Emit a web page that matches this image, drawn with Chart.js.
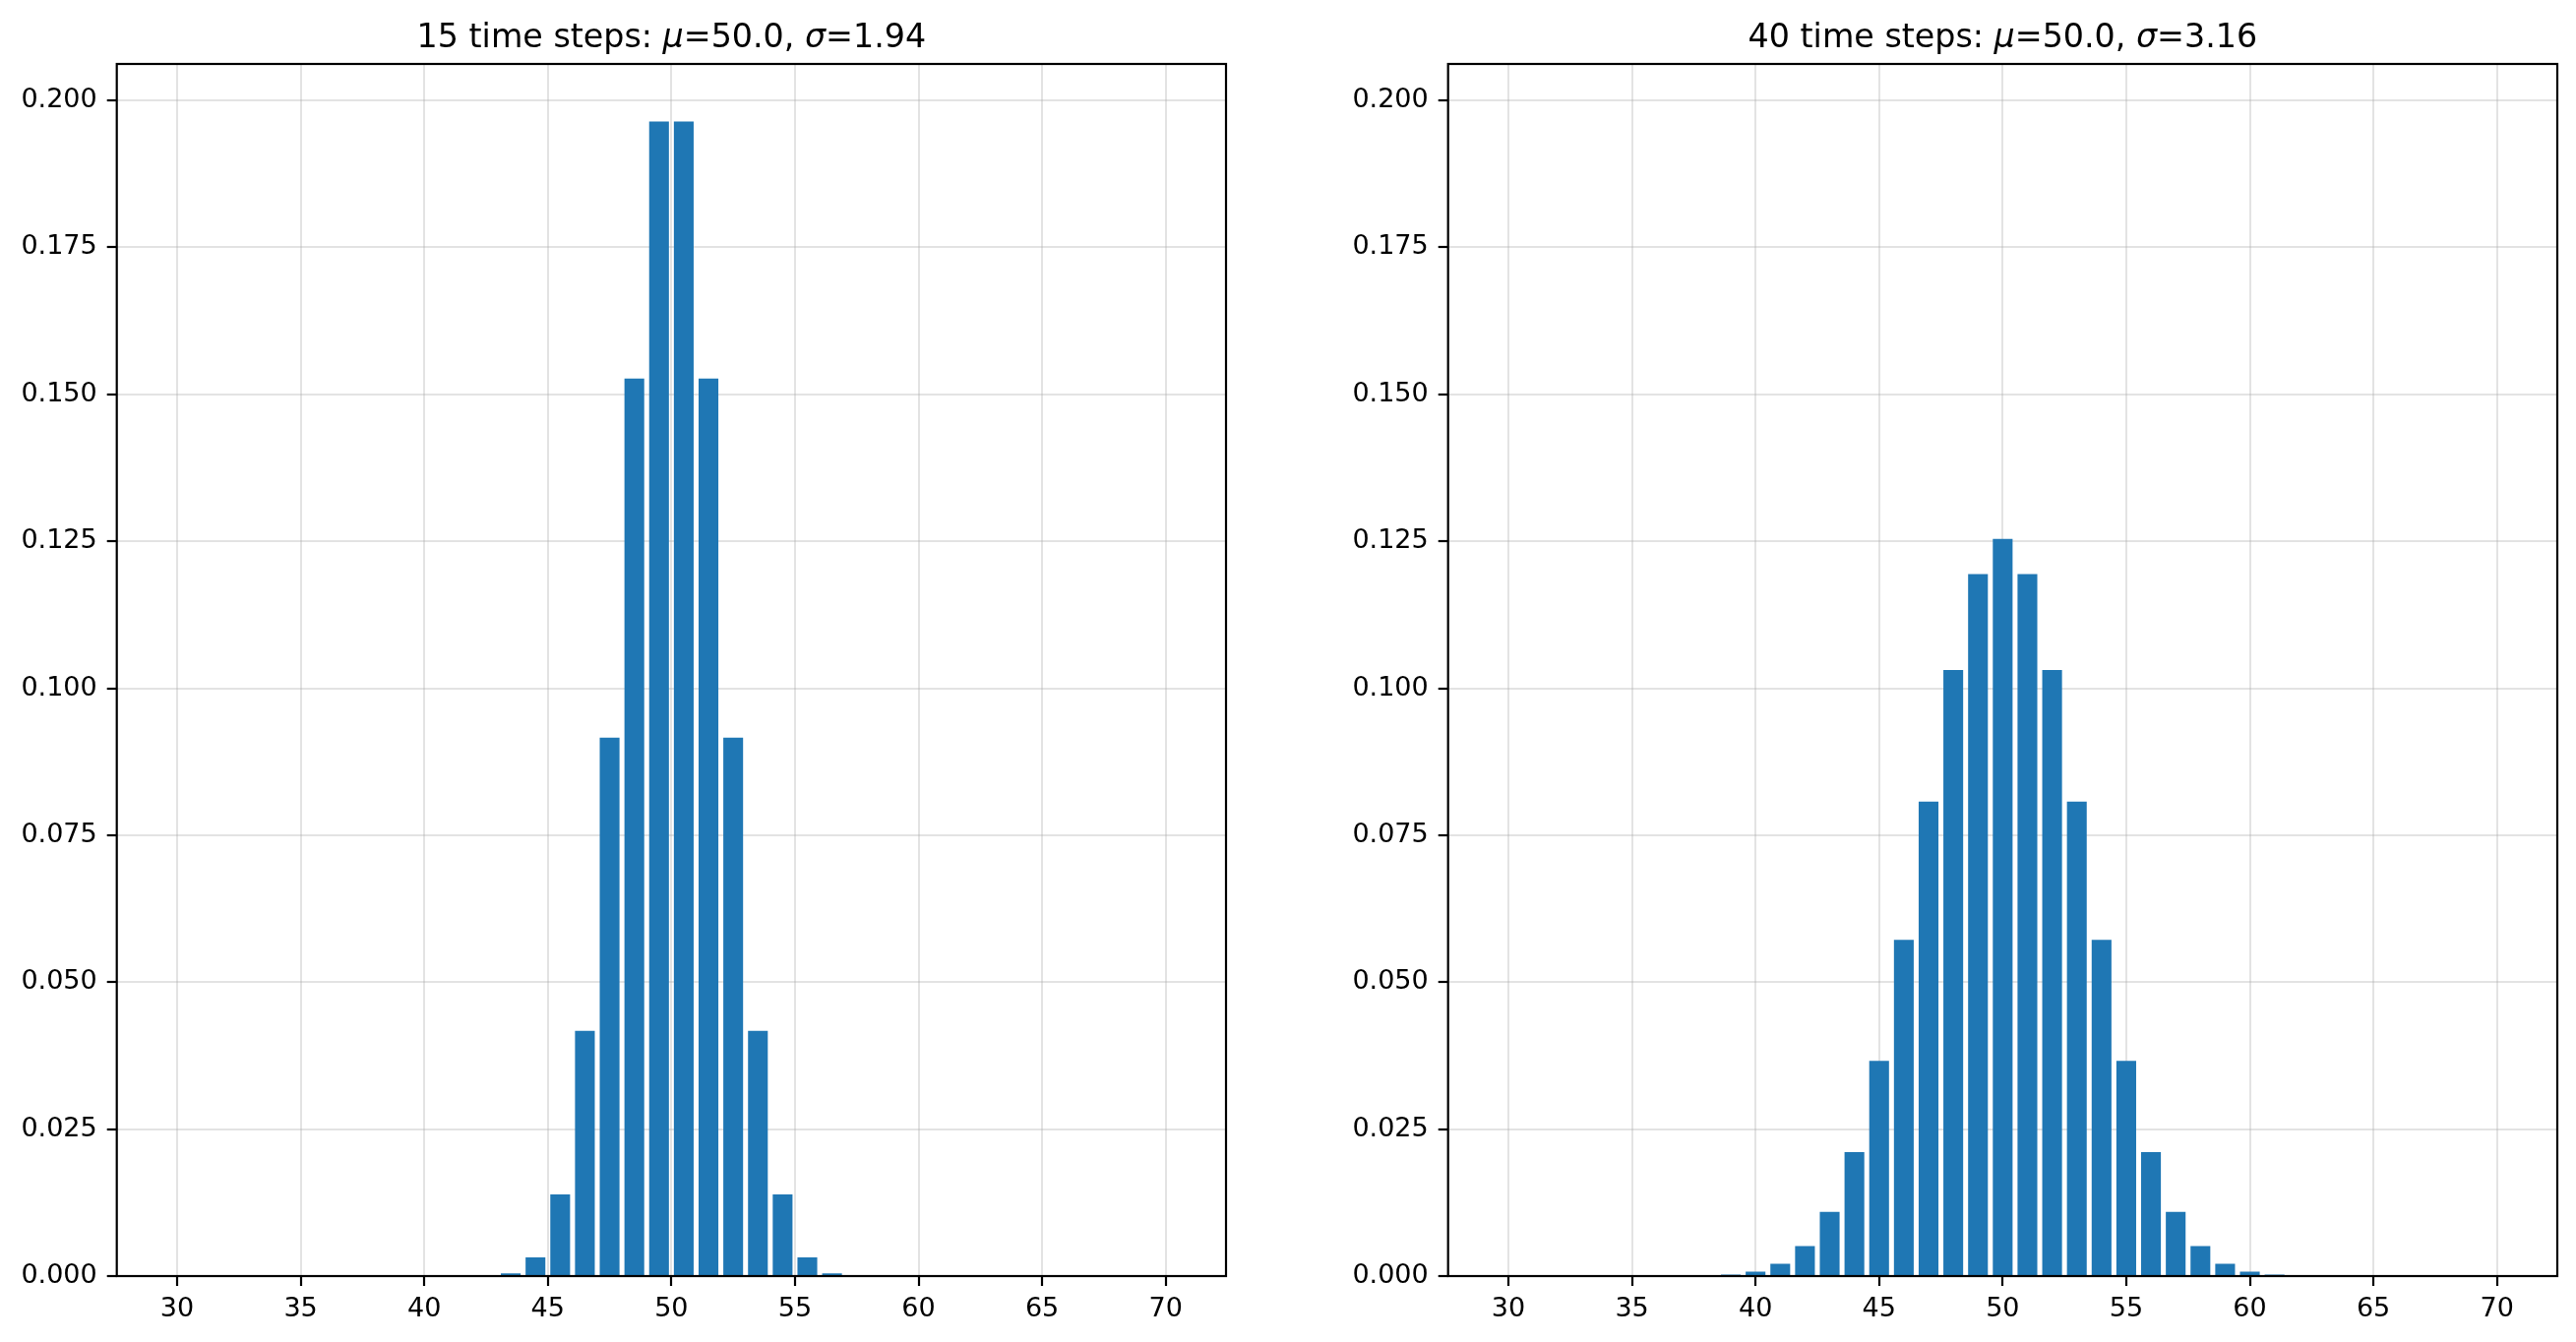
<!DOCTYPE html>
<html>
<head>
<meta charset="utf-8">
<script src="https://cdn.jsdelivr.net/npm/chart.js@4.4.0/dist/chart.umd.min.js"></script>
<style>
  body { margin: 0; background: #fff; }
  canvas { position: absolute; top: 0; }
</style>
</head>
<body>
<canvas id="leftChart" width="1309" height="1364" style="left:0px"></canvas>
<canvas id="rightChart" width="1309" height="1364" style="left:1309px"></canvas>
<script>
// -------------------------
// Data
// -------------------------

// 15 time steps (bars on the half units)
const xLeft = [42.5, 43.5, 44.5, 45.5, 46.5, 47.5, 48.5, 49.5, 50.5, 51.5, 52.5, 53.5, 54.5, 55.5, 56.5, 57.5];
const pLeft = [0.00003, 0.00046, 0.0032, 0.0139, 0.0417, 0.0916, 0.1527, 0.1964,
               0.1964, 0.1527, 0.0916, 0.0417, 0.0139, 0.0032, 0.00046, 0.00003];

// 40 time steps
const xRight = [30, 31, 32, 33, 34, 35, 36, 37, 38, 39, 40, 41, 42, 43, 44, 45, 46, 47, 48, 49, 50,
                51, 52, 53, 54, 55, 56, 57, 58, 59, 60, 61, 62, 63, 64, 65, 66, 67, 68, 69, 70];
const pRight = [0, 0, 0, 0, 0, 0.0000006, 0.0000035, 0.000017, 0.00007, 0.00025, 0.00077,
                0.0021, 0.0051, 0.0109, 0.0211, 0.0366, 0.0572, 0.0807, 0.1031, 0.1194, 0.1254,
                0.1194, 0.1031, 0.0807, 0.0572, 0.0366, 0.0211, 0.0109, 0.0051, 0.0021, 0.00077,
                0.00025, 0.00007, 0.000017, 0.0000035, 0.0000006, 0, 0, 0, 0, 0];

// ticks
const xTicks = [30, 35, 40, 45, 50, 55, 60, 65, 70];
const yTicks = [0, 0.025, 0.05, 0.075, 0.1, 0.125, 0.15, 0.175, 0.2];

// titles: [text, italic?]
const titleLeft = [["15 time steps: ", false], ["\u03bc", true], ["=50.0, ", false], ["\u03c3", true], ["=1.94", false]];
const titleRight = [["40 time steps: ", false], ["\u03bc", true], ["=50.0, ", false], ["\u03c3", true], ["=3.16", false]];
// -------------------------

const FONT = "'DejaVu Sans', sans-serif";

// title drawn over the axes, matplotlib style
const titlePlugin = {
  id: "mplTitle",
  afterDraw(chart, args, opts) {
    const ctx = chart.ctx;
    const area = chart.chartArea;
    ctx.save();
    ctx.fillStyle = "#000";
    ctx.textBaseline = "alphabetic";
    ctx.textAlign = "left";
    let total = 0;
    opts.parts.forEach(([txt, it]) => {
      ctx.font = (it ? "italic " : "") + "33.3px " + FONT;
      total += ctx.measureText(txt).width;
    });
    let x = (area.left + area.right) / 2 - total / 2;
    const y = area.top - 16.7;
    opts.parts.forEach(([txt, it]) => {
      ctx.font = (it ? "italic " : "") + "33.3px " + FONT;
      ctx.fillText(txt, x, y);
      x += ctx.measureText(txt).width;
    });
    // axes box
    ctx.strokeStyle = "#000";
    ctx.lineWidth = 2.2;
    ctx.strokeRect(area.left, area.top, area.right - area.left, area.bottom - area.top);
    ctx.restore();
  }
};

function makeChart(id, xs, ys, parts, yAxisWidth, rightPad) {
  const ctx = document.getElementById(id).getContext("2d");
  return new Chart(ctx, {
    type: "bar",
    data: {
      datasets: [{
        data: xs.map((x, i) => ({ x: x, y: ys[i] })),
        backgroundColor: "#1f77b4",
        borderWidth: 0,
        categoryPercentage: 1.0,
        barPercentage: 0.8
      }]
    },
    options: {
      responsive: false,
      animation: false,
      devicePixelRatio: 1,
      layout: { padding: { top: 65, right: rightPad, left: 0, bottom: 0 } },
      plugins: {
        legend: { display: false },
        tooltip: { enabled: false },
        mplTitle: { parts: parts }
      },
      scales: {
        x: {
          type: "linear",
          min: 27.56,
          max: 72.44,
          offset: false,
          z: 1,
          afterBuildTicks: (s) => { s.ticks = xTicks.map(v => ({ value: v })); },
          afterFit: (s) => { s.height = 67; },
          grid: {
            offset: false,
            color: "rgba(176,176,176,0.35)",
            lineWidth: 2,
            tickColor: "#000",
            tickWidth: 2.2,
            tickLength: 10
          },
          border: { display: false },
          ticks: {
            autoSkip: false,
            maxRotation: 0,
            padding: 8,
            color: "#000",
            font: { family: FONT, size: 27 },
            callback: (v) => String(v)
          }
        },
        y: {
          min: 0,
          max: 0.2062,
          z: 1,
          afterBuildTicks: (s) => { s.ticks = yTicks.map(v => ({ value: v })); },
          afterFit: (s) => { s.width = yAxisWidth; },
          grid: {
            color: "rgba(176,176,176,0.35)",
            lineWidth: 2,
            tickColor: "#000",
            tickWidth: 2.2,
            tickLength: 10
          },
          border: { display: false },
          ticks: {
            autoSkip: false,
            padding: 10,
            color: "#000",
            font: { family: FONT, size: 27 },
            callback: (v) => v.toFixed(3)
          }
        }
      }
    },
    plugins: [titlePlugin]
  });
}

makeChart("leftChart", xLeft, pLeft, titleLeft, 118.7, 63);
makeChart("rightChart", xRight, pRight, titleRight, 162.7, 19);
</script>
</body>
</html>
